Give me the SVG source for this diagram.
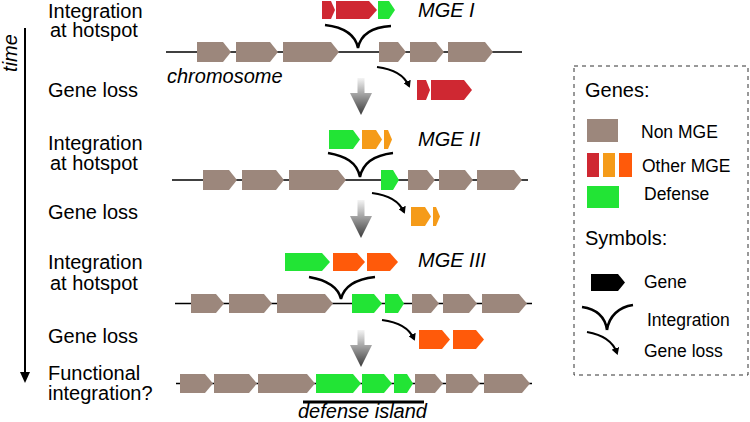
<svg xmlns="http://www.w3.org/2000/svg" width="750" height="422" viewBox="0 0 750 422">
<defs>
<linearGradient id="gr" x1="0" y1="0" x2="0" y2="1">
<stop offset="0" stop-color="#f4f4f4"/>
<stop offset="1" stop-color="#3a3a3a"/>
</linearGradient>
<marker id="ah" markerWidth="8" markerHeight="8" refX="5" refY="4" orient="auto" markerUnits="userSpaceOnUse">
<path d="M0,0 L7,4 L0,8 Z" fill="#000"/>
</marker>
</defs>
<style>
.t{font-family:"Liberation Sans",Arial,sans-serif;font-size:20px;fill:#000}
.i{font-style:italic}
.s{font-size:17.5px}
.nm{fill:#9c877c}
.rd{fill:#cf2832}
.gn{fill:#22e435}
.or{fill:#f59b19}
.orr{fill:#ff5a0a}
.chr{stroke:#000;stroke-width:1.6;fill:none}
.int{stroke:#000;stroke-width:2.5;fill:none}
.loss{stroke:#000;stroke-width:2.2;fill:none;marker-end:url(#ah)}
.big{fill:url(#gr)}
</style>
<rect width="750" height="422" fill="#fff"/>

<g id="timeline">
<line x1="25" y1="28" x2="25" y2="374" stroke="#000" stroke-width="2"/>
<polygon points="20,372 30,372 25,383" fill="#000"/>
<text class="t i" transform="translate(17,53) rotate(-90)" text-anchor="middle">time</text>
</g>

<g id="labels">
<text class="t" x="48" y="17.5">Integration</text>
<text class="t" x="50" y="37">at hotspot</text>
<text class="t" x="48" y="97">Gene loss</text>
<text class="t" x="48" y="150">Integration</text>
<text class="t" x="50" y="170">at hotspot</text>
<text class="t" x="48" y="219">Gene loss</text>
<text class="t" x="48" y="269">Integration</text>
<text class="t" x="50" y="290">at hotspot</text>
<text class="t" x="48" y="343">Gene loss</text>
<text class="t" x="48" y="380">Functional</text>
<text class="t" x="48" y="400">integration?</text>
</g>

<g id="row1">
<line class="chr" x1="166" y1="52" x2="522" y2="52"/>
<polygon class="nm" points="197,42 223,42 231,52 223,62 197,62"/>
<polygon class="nm" points="236,42 270,42 278,52 270,62 236,62"/>
<polygon class="nm" points="283,42 331,42 339,52 331,62 283,62"/>
<polygon class="nm" points="379,42 398,42 406,52 398,62 379,62"/>
<polygon class="nm" points="410,42 436,42 444,52 436,62 410,62"/>
<polygon class="nm" points="448,42 485,42 493,52 485,62 448,62"/>
<text class="t i" x="167" y="83">chromosome</text>
</g>
<g id="mge1">
<polygon class="rd" points="322,1 331,1 335,10 331,19 322,19"/>
<polygon class="rd" points="336,1 369,1 377,10 369,19 336,19"/>
<polygon class="gn" points="378,1 389,1 395,10 389,19 378,19"/>
<text class="t i" x="418" y="17">MGE I</text>
</g>
<g id="loss1">
<polygon class="rd" points="417,80 426,80 430,90 426,100 417,100"/>
<polygon class="rd" points="431,80 464,80 472,90 464,100 431,100"/>
</g>

<g id="row2">
<line class="chr" x1="172" y1="180" x2="528" y2="180"/>
<polygon class="nm" points="203,170 229,170 237,180 229,190 203,190"/>
<polygon class="nm" points="242,170 276,170 284,180 276,190 242,190"/>
<polygon class="nm" points="289,170 338,170 346,180 338,190 289,190"/>
<polygon class="gn" points="381,170 393,170 399,180 393,190 381,190"/>
<polygon class="nm" points="408,170 427,170 435,180 427,190 408,190"/>
<polygon class="nm" points="439,170 465,170 473,180 465,190 439,190"/>
<polygon class="nm" points="477,170 514,170 522,180 514,190 477,190"/>
</g>
<g id="mge2">
<polygon class="gn" points="329,130 353,130 360,139.5 353,149 329,149"/>
<polygon class="or" points="362,130 376,130 382,139.5 376,149 362,149"/>
<polygon class="or" points="384,130 388,130 392,139.5 388,149 384,149"/>
<text class="t i" x="418" y="146">MGE II</text>
</g>
<g id="loss2">
<polygon class="or" points="411,207 425,207 431,216.5 425,226 411,226"/>
<polygon class="or" points="433,207 436,207 440,216.5 436,226 433,226"/>
</g>

<g id="row3">
<line class="chr" x1="175" y1="303.5" x2="532" y2="303.5"/>
<polygon class="nm" points="191,294 216,294 224,303.5 216,313 191,313"/>
<polygon class="nm" points="229,294 264,294 272,303.5 264,313 229,313"/>
<polygon class="nm" points="277,294 325,294 333,303.5 325,313 277,313"/>
<polygon class="gn" points="352,294 374,294 382,303.5 374,313 352,313"/>
<polygon class="gn" points="385,294 398,294 404,303.5 398,313 385,313"/>
<polygon class="nm" points="412,294 431,294 439,303.5 431,313 412,313"/>
<polygon class="nm" points="443,294 469,294 477,303.5 469,313 443,313"/>
<polygon class="nm" points="482,294 519,294 527,303.5 519,313 482,313"/>
</g>
<g id="mge3">
<polygon class="gn" points="285,253 322,253 330,262 322,271 285,271"/>
<polygon class="orr" points="333,253 357,253 365,262 357,271 333,271"/>
<polygon class="orr" points="367,253 390,253 398,262 390,271 367,271"/>
<text class="t i" x="418" y="267">MGE III</text>
</g>
<g id="loss3">
<polygon class="orr" points="419,330 442,330 450,339.5 442,349 419,349"/>
<polygon class="orr" points="453,330 476,330 484,339.5 476,349 453,349"/>
</g>

<g id="row4">
<line class="chr" x1="176" y1="383.5" x2="532" y2="383.5"/>
<polygon class="nm" points="180,374 205,374 213,383.5 205,393 180,393"/>
<polygon class="nm" points="214,374 249,374 257,383.5 249,393 214,393"/>
<polygon class="nm" points="258,374 307,374 315,383.5 307,393 258,393"/>
<polygon class="gn" points="316,374 353,374 361,383.5 353,393 316,393"/>
<polygon class="gn" points="362,374 384,374 392,383.5 384,393 362,393"/>
<polygon class="gn" points="394,374 407,374 413,383.5 407,393 394,393"/>
<polygon class="nm" points="415,374 435,374 443,383.5 435,393 415,393"/>
<polygon class="nm" points="446,374 472,374 480,383.5 472,393 446,393"/>
<polygon class="nm" points="484,374 522,374 530,383.5 522,393 484,393"/>
<line x1="303" y1="402" x2="424" y2="402" stroke="#000" stroke-width="3"/>
<text class="t i" x="298" y="418">defense island</text>
</g>

<g id="connectors">
<path class="int" d="M325,25 C342,27 355,33 358,48 M358,48 C361,33 374,27 391,26"/>
<path class="int" d="M328,153 C345,156 357,162 360,177 M360,177 C363,162 376,155 393,153"/>
<path class="int" d="M309,277 C326,280 338,286 341,299 M341,299 C344,286 357,279 375,277"/>
<path class="loss" d="M377,67 Q402,70 409,86"/>
<path class="loss" d="M372,193 Q397,196 404,212"/>
<path class="loss" d="M382,320 Q407,323 414,339"/>
<polygon class="big" points="357.5,78 364.5,78 364.5,93 372,93 361,115 350,93 357.5,93"/>
<polygon class="big" points="357.5,200 364.5,200 364.5,216 372,216 361,238 350,216 357.5,216"/>
<polygon class="big" points="357.5,330 364.5,330 364.5,345 372,345 361,367 350,345 357.5,345"/>
</g>

<g id="legend">
<rect x="574" y="66" width="174" height="309" fill="none" stroke="#333" stroke-width="1" stroke-dasharray="4,4"/>
<text class="t" x="585" y="97">Genes:</text>
<rect class="nm" x="587" y="119" width="31" height="23"/>
<text class="t s" x="641" y="138">Non MGE</text>
<rect class="rd" x="587" y="153" width="12" height="24"/>
<rect class="or" x="603" y="153" width="12" height="24"/>
<rect class="orr" x="619" y="153" width="13" height="24"/>
<text class="t s" x="642" y="172">Other MGE</text>
<rect class="gn" x="587" y="186" width="32" height="22"/>
<text class="t s" x="644" y="200">Defense</text>
<text class="t" x="585" y="245">Symbols:</text>
<polygon points="591,274 618,274 625,282.5 618,291 591,291" fill="#000"/>
<text class="t s" x="644" y="288">Gene</text>
<path class="int" d="M582,307 C596,309 605,316 607,330 M607,330 C609,316 619,307 633,305"/>
<text class="t s" x="647" y="326">Integration</text>
<path class="loss" d="M587,332 Q611,336 617,353"/>
<text class="t s" x="644" y="357">Gene loss</text>
</g>
</svg>
